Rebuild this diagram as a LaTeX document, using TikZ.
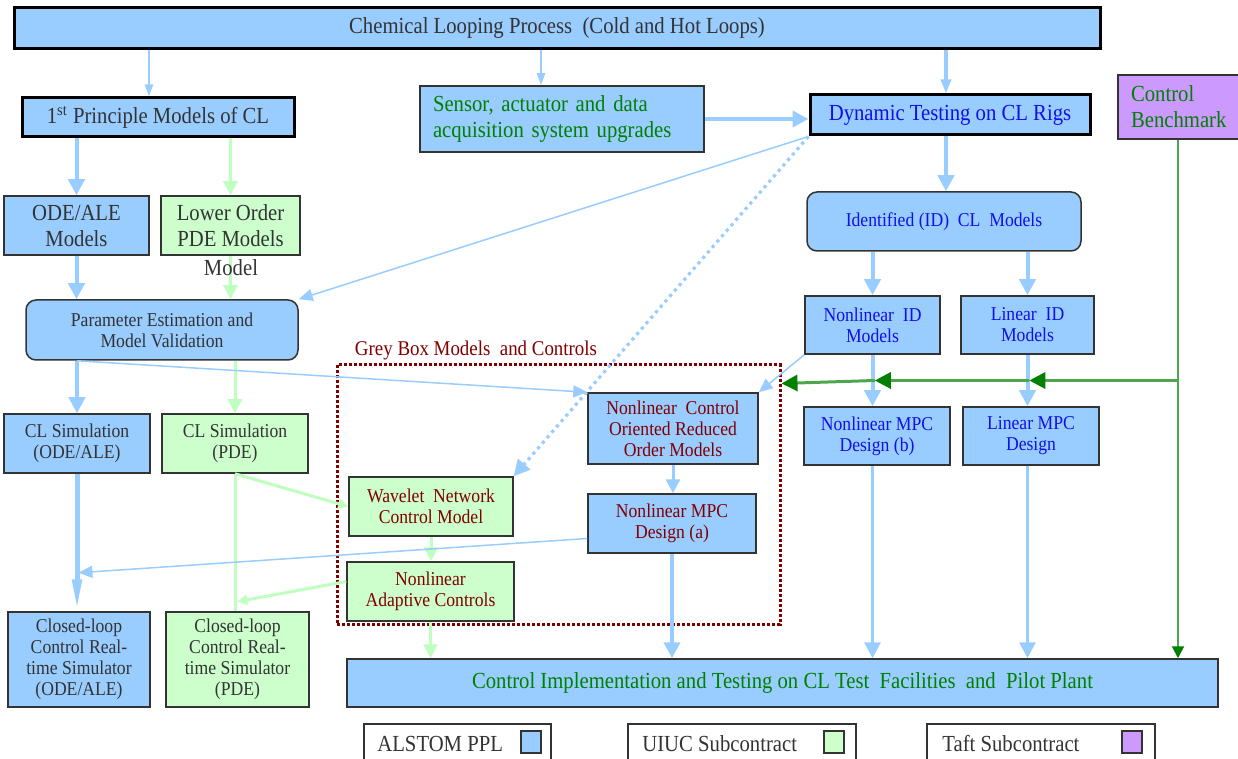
\documentclass[tikz,border=0pt]{standalone}
\usepackage{fontspec}
\setmainfont{Liberation Serif}[FakeStretch=0.9]
\usepackage{tikz}
\usetikzlibrary{positioning, calc, arrows.meta}

\definecolor{alstomblue}{HTML}{99CCFF}
\definecolor{uiucgreen}{HTML}{CCFFCC}
\definecolor{uiucline}{HTML}{BFFFBF}
\definecolor{taftpurple}{HTML}{CC99FF}
\definecolor{boxline}{HTML}{333333}
\definecolor{txtgray}{HTML}{333333}
\definecolor{txtblue}{HTML}{1010E8}
\definecolor{txtgreen}{HTML}{008000}
\definecolor{txtred}{HTML}{800000}
\definecolor{ctlgreen}{HTML}{008000}
\definecolor{ctlline}{HTML}{4DA64D}

\begin{document}
\begin{tikzpicture}[x=0.5pt, y=-0.5pt,
    bigtxt/.style={font=\fontsize{11.5}{13}\selectfont},
    smalltxt/.style={font=\fontsize{9.8}{10.5}\selectfont},
    box/.style={draw=boxline, line width=0.75pt, inner sep=0pt, align=center},
    heavy/.style={draw=black, line width=1.5pt},
    bluebox/.style={box, fill=alstomblue},
    greenbox/.style={box, fill=uiucgreen},
    purplebox/.style={box, fill=taftpurple},
    roundbox/.style={bluebox, rounded corners=5pt},
    bluarr/.style={draw=alstomblue, line width=2pt, -{Triangle[length=8pt,width=8pt]}},
    toparr/.style={draw=alstomblue, line width=1.2pt, -{Triangle[length=6pt,width=4pt]}},
    thinarr/.style={draw=alstomblue, line width=0.75pt, -{Triangle[length=7pt,width=6pt]}},
    grnarr/.style={draw=uiucline, line width=1.5pt, -{Triangle[length=7pt,width=7pt]}},
    grnthin/.style={draw=uiucline, line width=1.5pt, -{Triangle[length=5pt,width=5pt]}},
    benchline/.style={draw=ctlline, line width=1pt, -{Triangle[length=6pt,width=6pt,color=ctlgreen]}}
  ]
  \useasboundingbox (0,0) rectangle (1238,759);

  % Top row
  \node[bluebox, heavy, bigtxt, text=txtgray, minimum width=543pt, minimum height=20.5pt] (top) at (557,28.5)
    {\raisebox{-1.5pt}{Chemical Looping Process\ \ (Cold and Hot Loops)}};
  \node[bluebox, heavy, bigtxt, text=txtgray, minimum width=136pt, minimum height=19.5pt] (princ) at (158,117.5)
    {1\textsuperscript{st} Principle Models of CL};
  \node[bluebox, bigtxt, text=txtgreen, text width=129pt, inner xsep=6.5pt, align=left, minimum height=33pt] (sensor) at (562,119)
    {Sensor, actuator and data\\acquisition system upgrades};
  \node[bluebox, heavy, bigtxt, text=txtblue, minimum width=140pt, minimum height=20pt] (dyntest) at (950,115)
    {Dynamic Testing on CL Rigs};
  \node[purplebox, bigtxt, text=txtgreen, text width=58pt, inner xsep=6.5pt, align=left, minimum height=32pt] (bench) at (1189,107)
    {Control\\Benchmark};

  % First principle branch
  \node[bluebox, bigtxt, text=txtgray, minimum width=72.5pt, minimum height=29.5pt] (odeale) at (76.5,225.5)
    {ODE/ALE\\Models};
  \node[greenbox, bigtxt, text=txtgray, minimum width=69.5pt, minimum height=29.5pt] (lowpde) at (230.5,225.5)
    {Lower Order\\PDE Models};
  \node[roundbox, smalltxt, text=txtgray, minimum width=136pt, minimum height=30pt] (param) at (162,330)
    {Parameter Estimation and\\Model Validation};
  \node[bluebox, smalltxt, text=txtgray, minimum width=73pt, minimum height=29.5pt] (clsimode) at (77,443.5)
    {CL Simulation\\(ODE/ALE)};
  \node[greenbox, smalltxt, text=txtgray, minimum width=73pt, minimum height=29.5pt] (clsimpde) at (235,443.5)
    {CL Simulation\\(PDE)};
  \node[bluebox, smalltxt, text=txtgray, minimum width=71pt, minimum height=47.5pt] (clrtode) at (79,659.5)
    {Closed-loop\\Control Real-\\time Simulator\\(ODE/ALE)};
  \node[greenbox, smalltxt, text=txtgray, minimum width=71.5pt, minimum height=47.5pt] (clrtpde) at (237.5,659.5)
    {Closed-loop\\Control Real-\\time Simulator\\(PDE)};

  % Identified models branch
  \node[roundbox, smalltxt, text=txtblue, minimum width=137pt, minimum height=29.5pt] (idmodels) at (944,221.5)
    {Identified (ID)\ \ CL\ \ Models};
  \node[bluebox, smalltxt, text=txtblue, minimum width=67.5pt, minimum height=29pt] (nlid) at (872.5,325)
    {Nonlinear\ \ ID\\Models};
  \node[bluebox, smalltxt, text=txtblue, minimum width=66.5pt, minimum height=29pt] (linid) at (1027.5,325)
    {Linear\ \ ID\\Models};
  \node[bluebox, smalltxt, text=txtblue, minimum width=73pt, minimum height=29pt] (nlmpcb) at (877,436)
    {Nonlinear MPC\\Design (b)};
  \node[bluebox, smalltxt, text=txtblue, minimum width=68pt, minimum height=29pt] (linmpc) at (1031,436)
    {Linear MPC\\Design};

  % Grey box models
  \node[draw=txtred, line width=1.5pt, dash pattern=on 1.5pt off 1pt, minimum width=221.5pt, minimum height=129.5pt, inner sep=0pt] (greybox) at (558.5,494.5) {};
  \node[text=txtred, font=\fontsize{10.5}{12}\selectfont] (greylabel) at (476,350) {Grey Box Models\ \ and Controls};
  \node[bluebox, smalltxt, text=txtred, minimum width=85pt, minimum height=35.5pt] (nlcorom) at (673,428.5)
    {Nonlinear\ \ Control\\Oriented Reduced\\Order Models};
  \node[bluebox, smalltxt, text=txtred, minimum width=84pt, minimum height=29.5pt] (nlmpca) at (672,523.5)
    {Nonlinear MPC\\Design (a)};
  \node[greenbox, smalltxt, text=txtred, minimum width=82pt, minimum height=29.5pt] (wavelet) at (431,506.5)
    {Wavelet\ \ Network\\Control Model};
  \node[greenbox, smalltxt, text=txtred, minimum width=83.5pt, minimum height=29.5pt] (nladapt) at (430.5,591.5)
    {Nonlinear\\Adaptive Controls};

  % Implementation
  \node[bluebox, bigtxt, text=txtgreen, minimum width=435.5pt, minimum height=24pt] (ctrlimpl) at (782.5,683)
    {Control Implementation and Testing on CL Test\ \ Facilities\ \ and\ \ Pilot Plant};

  % Legend
  \node[box, fill=white, minimum width=93.5pt, minimum height=38pt] (legalstom) at (457.5,762) {};
  \node[bigtxt, text=txtgray, anchor=west, inner sep=0pt] (legalstomtxt) at (377,744) {ALSTOM PPL};
  \node[bluebox, minimum width=10pt, minimum height=11pt] (legalstomsq) at (531,742) {};
  \node[box, fill=white, minimum width=114pt, minimum height=38pt] (leguiuc) at (742,762) {};
  \node[bigtxt, text=txtgray, anchor=west, inner sep=0pt] (leguiuctxt) at (642,744) {UIUC Subcontract};
  \node[greenbox, minimum width=10pt, minimum height=11pt] (leguiucsq) at (834,742) {};
  \node[box, fill=white, minimum width=114pt, minimum height=38pt] (legtaft) at (1041,762) {};
  \node[bigtxt, text=txtgray, anchor=west, inner sep=0pt] (legtafttxt) at (942,744) {Taft Subcontract};
  \node[purplebox, minimum width=10pt, minimum height=11pt] (legtaftsq) at (1132,742) {};

  % Helper points
  \coordinate (princin) at ([xshift=-4.5pt]princ.north);
  \coordinate (sensin) at ([xshift=-10.5pt]sensor.north);
  \coordinate (benchout) at ([xshift=-5.5pt]bench.south);
  \coordinate (odejoin) at ($(clsimode.south)!0.72!(clrtode.north)$);
  \coordinate (pdejoin) at ($(clsimpde.south)!0.93!(clrtpde.north)$);
  \coordinate (linjoin) at ($(linid.south)!0.5!(linmpc.north)$);
  \coordinate (nljoin) at ($(nlid.south)!0.5!(nlmpcb.north)$);

  % Arrows from the top
  \draw[toparr] (top.south -| princin) -- (princin);
  \draw[toparr] (top.south -| sensin) -- (sensin);
  \draw[toparr, line width=2pt, -{Triangle[length=7pt,width=5pt]}] ([xshift=-2pt]top.south -| dyntest.north) -- ([xshift=-2pt]dyntest.north);
  \draw[bluarr] (sensor.east) -- (sensor.east -| dyntest.west);

  % First principle arrows
  \draw[bluarr] (princ.south -| odeale.north) -- (odeale.north);
  \draw[grnarr] (princ.south -| lowpde.north) -- (lowpde.north);
  \draw[bluarr] (odeale.south) -- (param.north -| odeale.south);
  \draw[grnarr] (lowpde.south) -- (param.north -| lowpde.south);
  \node[bigtxt, text=txtgray, inner sep=0pt] (modeltxt) at (231,268) {Model};
  \draw[bluarr] (param.south -| clsimode.north) -- (clsimode.north);
  \draw[grnarr] (param.south -| clsimpde.north) -- (clsimpde.north);
  \draw[draw=alstomblue, line width=2.5pt, -{Triangle[length=16pt,width=4.5pt]}] (clsimode.south) -- (clrtode.north -| clsimode.south);
  \draw[draw=uiucline, line width=1.5pt] (clsimpde.south) -- (clrtpde.north -| clsimpde.south);

  % Dynamic testing arrows
  \draw[thinarr] (dyntest.south west) -- (param.north east);
  \draw[draw=alstomblue, line width=1.6pt, dotted, -{Triangle[length=8pt,width=8pt]}] (dyntest.south west) -- (wavelet.north east);
  \draw[bluarr] ([xshift=-2pt]dyntest.south) -- ([xshift=-2pt]idmodels.north -| dyntest.south);
  \draw[bluarr] (idmodels.south -| nlid.north) -- (nlid.north);
  \draw[bluarr] (idmodels.south -| linid.north) -- (linid.north);
  \draw[bluarr] (nlid.south) -- (nlmpcb.north -| nlid.south);
  \draw[bluarr] (linid.south) -- (linmpc.north -| linid.south);
  \draw[thinarr] (nlid.south west) -- (nlcorom.north east);
  \draw[thinarr] (param.south -| clsimode.north) -- (nlcorom.north west);

  % Grey box arrows
  \draw[toparr, line width=1.5pt, -{Triangle[length=7pt,width=7pt]}] (nlcorom.south) -- (nlmpca.north -| nlcorom.south);
  \draw[grnarr] (wavelet.south) -- (nladapt.north -| wavelet.south);
  \draw[grnthin] (clsimpde.south) -- (wavelet.west);
  \draw[thinarr] ([yshift=-7.5pt]nlmpca.west) -- (odejoin);
  \draw[grnthin] ([yshift=5pt]nladapt.west) -- (pdejoin);

  % Into the implementation
  \draw[grnarr] (nladapt.south) -- (ctrlimpl.north -| nladapt.south);
  \draw[bluarr] (nlmpca.south) -- (ctrlimpl.north -| nlmpca.south);
  \draw[bluarr, line width=1.5pt] (nlmpcb.south -| nlid.south) -- (ctrlimpl.north -| nlid.south);
  \draw[bluarr, line width=1.5pt] (linmpc.south -| linid.south) -- (ctrlimpl.north -| linid.south);

  % Control benchmark
  \draw[benchline] (benchout) -- (ctrlimpl.north -| benchout);
  \draw[benchline, line width=1.5pt, -{Triangle[length=8pt,width=8pt,color=ctlgreen]}] (benchout |- linjoin) -- (linjoin);
  \draw[benchline, line width=1.5pt, -{Triangle[length=8pt,width=8pt,color=ctlgreen]}] (linjoin) -- (nljoin);
  \draw[benchline, line width=1.5pt, -{Triangle[length=8pt,width=8pt,color=ctlgreen]}] (nljoin) -- ([yshift=-1.5pt]greybox.east |- nljoin);

\end{tikzpicture}
\end{document}
